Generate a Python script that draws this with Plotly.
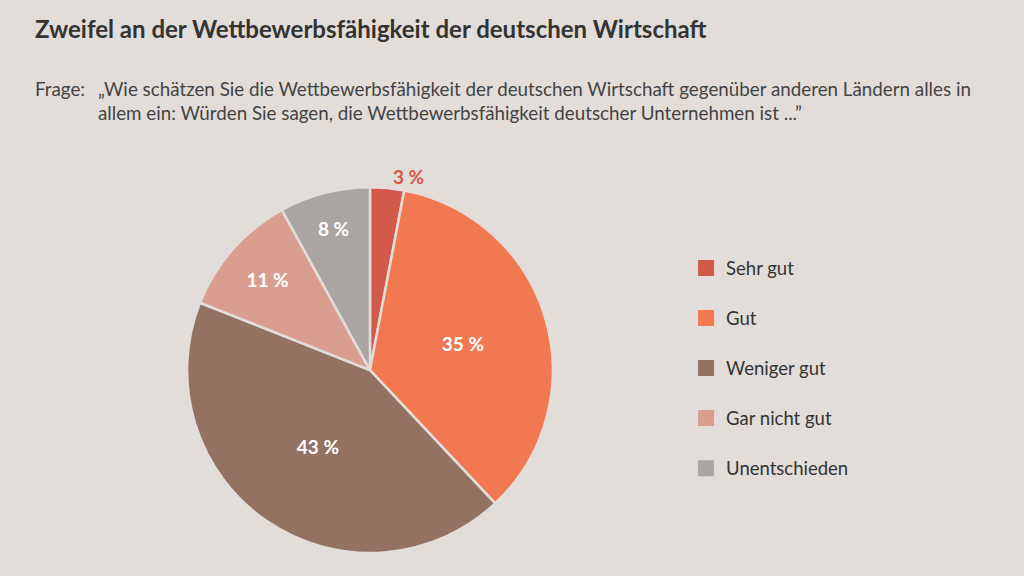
import plotly.graph_objects as go

categories = ["Sehr gut", "Gut", "Weniger gut", "Gar nicht gut", "Unentschieden"]
values = [3, 35, 43, 11, 8]
labels_text = ["<b>3 %</b>", "<b>35 %</b>", "<b>43 %</b>", "<b>11 %</b>", "<b>8 %</b>"]
colors = ["#d35a4b", "#f27852", "#937262", "#d99e8f", "#aaa5a2"]

title = "Zweifel an der Wettbewerbsfähigkeit der deutschen Wirtschaft"
question = ("„Wie schätzen Sie die Wettbewerbsfähigkeit der deutschen Wirtschaft gegenüber anderen Ländern alles in<br>"
            "allem ein: Würden Sie sagen, die Wettbewerbsfähigkeit deutscher Unternehmen ist ...”")

BG = "#e2ddd9"
FONT = "Lato, 'Open Sans', sans-serif"

fig = go.Figure()

fig.add_trace(go.Pie(
    labels=categories,
    values=values,
    text=labels_text,
    textinfo="text",
    sort=False,
    direction="clockwise",
    rotation=0,
    marker=dict(colors=colors, line=dict(color=BG, width=2.5)),
    textposition=["outside", "inside", "inside", "inside", "inside"],
    insidetextorientation="horizontal",
    insidetextfont=dict(color="white", size=19, family=FONT),
    outsidetextfont=dict(color=colors[0], size=19, family=FONT),
    showlegend=False,
    hoverinfo="label+percent",
    domain=dict(x=[0.1826, 0.540], y=[0.040, 0.675]),
))

for cat, col in zip(categories, colors):
    fig.add_trace(go.Scatter(
        x=[None], y=[None], mode="markers", name=cat,
        legendgroup=cat,
        marker=dict(symbol="square", size=20, color=col),
        showlegend=True,
    ))

fig.update_layout(
    width=1024, height=576,
    paper_bgcolor=BG, plot_bgcolor=BG,
    margin=dict(l=0, r=0, t=0, b=0),
    font=dict(family=FONT, color="#333333"),
    xaxis=dict(visible=False), yaxis=dict(visible=False),
    legend=dict(
        x=0.670, y=0.567, xanchor="left", yanchor="top",
        font=dict(size=18.5, color="#333333", family=FONT),
        tracegroupgap=23, bgcolor="rgba(0,0,0,0)",
        itemclick=False,
    ),
    annotations=[
        dict(text="<b>" + title + "</b>", x=33 / 1024, y=1 - 28 / 576, xref="paper", yref="paper",
             xanchor="left", yanchor="middle", showarrow=False,
             font=dict(size=24, color="#333333", family=FONT)),
        dict(text="Frage:", x=33 / 1024, y=1 - 88 / 576, xref="paper", yref="paper",
             xanchor="left", yanchor="middle", showarrow=False,
             font=dict(size=18.8, color="#444444", family=FONT)),
        dict(text=question, x=96 / 1024, y=1 - 100 / 576, xref="paper", yref="paper",
             xanchor="left", yanchor="middle", align="left", showarrow=False,
             font=dict(size=18.8, color="#444444", family=FONT)),
    ],
)

fig.write_html("out.html", config={"displayModeBar": False},
               post_script="document.body.style.margin='0';document.body.style.padding='0';")
